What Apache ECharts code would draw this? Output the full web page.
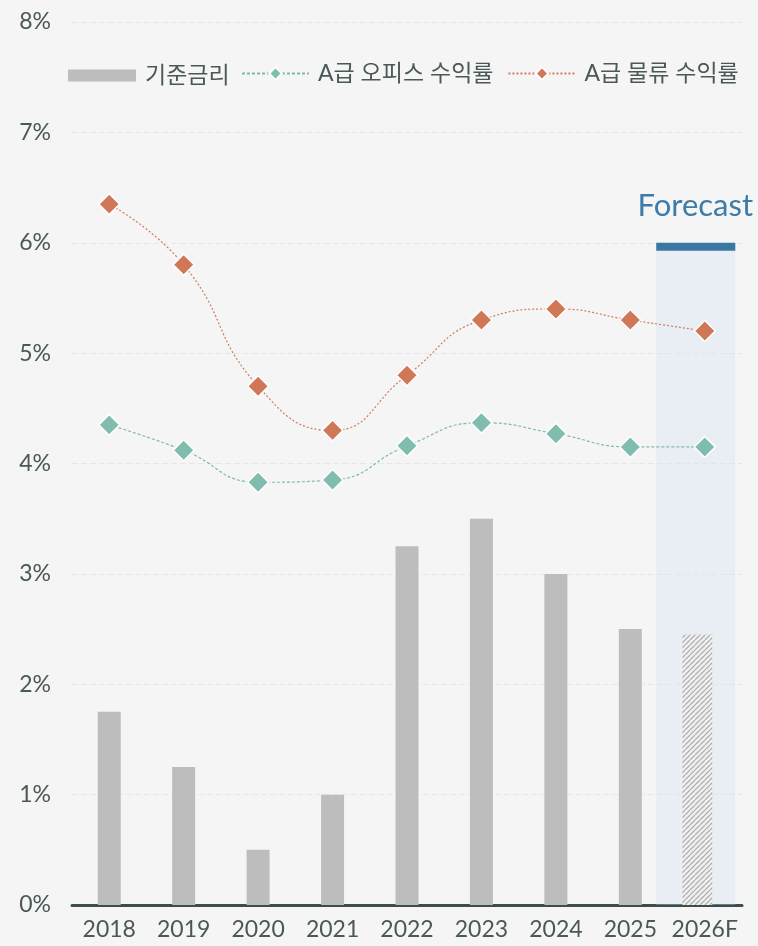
<!DOCTYPE html>
<html><head><meta charset="utf-8">
<script src="https://cdn.jsdelivr.net/npm/echarts@6/dist/echarts.min.js"></script>
<style>html,body{margin:0;padding:0;background:#f5f5f5}#c{width:758px;height:946px}</style>
</head><body><div id="c"></div>
<script>
const years = ['2018','2019','2020','2021','2022','2023','2024','2025','2026F'];
const baseRate = [1.75,1.25,0.5,1.0,3.25,3.5,3.0,2.5,2.45];
const officeYield = [4.35,4.12,3.83,3.85,4.16,4.37,4.27,4.15,4.15];
const logisticsYield = [6.35,5.80,4.70,4.30,4.80,5.30,5.40,5.30,5.20];
const yTicks = [0,1,2,3,4,5,6,7,8];
const forecastIndex = 8;
const forecastTop = 6;

const FONT = "Lato, 'Noto Sans CJK KR', sans-serif";
const TXT = '#4b5858';

// hatch pattern
const pc = document.createElement('canvas');
pc.width = 5; pc.height = 5;
const g = pc.getContext('2d');
g.fillStyle = '#f1f1f1'; g.fillRect(0,0,5,5);
g.strokeStyle = '#b0b0b0'; g.lineWidth = 1.3;
for (let k=-5;k<=10;k+=5){ g.beginPath(); g.moveTo(k,5); g.lineTo(k+5,0); g.stroke(); }

const chart = echarts.init(document.getElementById('c'));
const barData = baseRate.map((v,i)=> i===forecastIndex ? null : v);
const legendText = {fontSize: 23, color: TXT, fontFamily: FONT, padding:[0,0,0,4]};

chart.setOption({
  backgroundColor: '#f5f5f5',
  animation: false,
  textStyle: {fontFamily: FONT},
  grid: {left: 72, right: 16, top: 22, bottom: 41},
  legend: [{
    left: 63, top: 59, itemWidth: 68, itemHeight: 12, itemGap: 14,
    textStyle: legendText,
    data: [{name:'기준금리', icon:'rect'}]
  },{
    left: 236, top: 57, itemWidth: 67, itemHeight: 16, itemGap: 14,
    textStyle: legendText,
    data: ['A급 오피스 수익률', 'A급 물류 수익률']
  }],
  xAxis: {
    type: 'category', data: years,
    axisLine: {lineStyle: {color: '#3c4d4d', width: 3}},
    axisTick: {show: false},
    axisLabel: {fontSize: 23, color: TXT, margin: 13, fontFamily: FONT, interval: 0}
  },
  yAxis: {
    type: 'value', min: yTicks[0], max: yTicks[yTicks.length-1], interval: 1,
    axisLine: {show:false}, axisTick: {show:false},
    axisLabel: {formatter: '{value}%', fontSize: 23, color: TXT, margin: 21, fontFamily: FONT},
    splitLine: {lineStyle: {color: '#e7e7e7', type: [6,3], width: 1}}
  },
  series: [
    {
      type: 'custom', name: 'forecast', z: 1, silent: true,
      data: [[forecastIndex, baseRate[forecastIndex], forecastTop]],
      encode: {x: 0, y: 1},
      renderItem: function(params, api){
        const idx = api.value(0);
        const bw = api.size([1,0])[0];
        const cx = api.coord([idx, 0])[0];
        const y0 = api.coord([idx, 0])[1];
        const yBar = api.coord([idx, api.value(1)])[1];
        const yTop = api.coord([idx, api.value(2)])[1];
        const sL = cx - 0.652*bw, sR = cx + 0.41*bw;
        const bL = cx - 0.30*bw, bR = cx + 0.10*bw;
        return {type:'group', children:[
          {type:'rect', shape:{x:sL, y:yTop, width:sR-sL, height:y0-yTop},
           style:{fill:'rgba(205,225,238,0.32)'}},
          {type:'rect', shape:{x:sL, y:yTop, width:sR-sL, height:8},
           style:{fill:'#3a78a3'}},
          {type:'rect', shape:{x:bL, y:yBar, width:bR-bL, height:y0-yBar},
           style:{fill:{image: pc, repeat:'repeat'}}},
          {type:'text', x: cx - 0.128*bw, y: yTop - 37,
           style:{text:'Forecast', fill:'#3e7ba6', fontSize: 31, fontFamily: FONT, align:'center', verticalAlign:'middle'}}
        ]};
      }
    },
    {
      name: '기준금리', type: 'bar', data: barData, barWidth: 23, z: 2,
      itemStyle: {color: '#bdbdbd'}
    },
    {
      name: 'A급 오피스 수익률', type: 'line', data: officeYield, smooth: 0.5, z: 3,
      symbol: 'diamond', symbolSize: 21,
      lineStyle: {color: '#7dbcab', width: 1.2, type: [3,2]},
      itemStyle: {color: '#80bdae', borderColor: '#ffffff', borderWidth: 1.5}
    },
    {
      name: 'A급 물류 수익률', type: 'line', data: logisticsYield, smooth: 0.5, z: 3,
      symbol: 'diamond', symbolSize: 21,
      lineStyle: {color: '#d27a5c', width: 1.2, type: [2,2]},
      itemStyle: {color: '#d07758', borderColor: '#ffffff', borderWidth: 1.5}
    }
  ]
});
</script></body></html>
